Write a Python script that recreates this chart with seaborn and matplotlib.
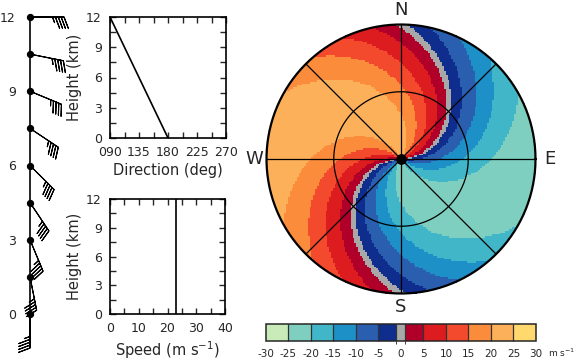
import numpy as np
import matplotlib
matplotlib.use("Agg")
import matplotlib.pyplot as plt
from matplotlib.colors import ListedColormap, BoundaryNorm
from matplotlib.cm import ScalarMappable
from matplotlib.ticker import MultipleLocator
import seaborn as sns

# ---------------- data ----------------
heights = [0, 1.5, 3, 4.5, 6, 7.5, 9, 10.5, 12]               # km
directions = [180, 168.75, 157.5, 146.25, 135, 123.75, 112.5, 101.25, 90]  # deg (from)
speeds = [23, 23, 23, 23, 23, 23, 23, 23, 23]                   # m/s

height_ticks = [0, 3, 6, 9, 12]
dir_ticks = [90, 135, 180, 225, 270]
dir_labels = ["090", "135", "180", "225", "270"]
speed_ticks = [0, 10, 20, 30, 40]

vel_bounds = [-30, -25, -20, -15, -10, -5, -1, 1, 5, 10, 15, 20, 25, 30]
vel_colors = ["#c8ebb8", "#7ecfbf", "#41b6c8", "#1e90c8", "#2a5fb0", "#0f2d8c",
              "#a8a8a8", "#b0002a", "#dc1c1e", "#f34a2e", "#fa8c3c", "#fdb05a", "#ffd86e"]
vel_ticks = [-30, -25, -20, -15, -10, -5, 0, 5, 10, 15, 20, 25, 30]
vel_labels = ["-30", "-25", "-20", "-15", "-10", "-5", "0", "5", "10", "15", "20", "25", "30"]
compass = {"N": (0.0, 1.108), "S": (0.0, -1.10), "W": (-1.093, 0.0), "E": (1.108, 0.0)}

# ---------------- style ----------------
sns.set_style("ticks")
plt.rcParams["font.family"] = ["DejaVu Sans"]
plt.rcParams["axes.linewidth"] = 1.2

W, H = 576, 361
fig = plt.figure(figsize=(W / 100, H / 100), dpi=100)


def ax_px(l, t, r, b):
    return fig.add_axes([l / W, 1 - b / H, (r - l) / W, (b - t) / H])


# ---------------- wind barbs ----------------
axb = ax_px(20, 17, 100, 314)
axb.set_xlim(-10, 70)
axb.set_ylim(0, 12)
for s in axb.spines.values():
    s.set_visible(False)
axb.set_xticks([])
axb.set_yticks(height_ticks)
axb.tick_params(axis="y", length=0, pad=3, labelsize=9)
zeros = np.zeros(len(heights))
axb.plot(zeros, heights, color="k", lw=1.2, clip_on=False)
axb.scatter(zeros, heights, s=18, color="k", zorder=4, clip_on=False)
d = np.deg2rad(directions)
sp = np.array(speeds, dtype=float)
u = -sp * np.sin(d)
v = -sp * np.cos(d)
axb.barbs(zeros, heights, u, v, length=7, lw=0.8, color="k",
          sizes=dict(spacing=0.085, height=0.33, width=0.25),
          barb_increments=dict(half=2.5, full=5, flag=25), clip_on=False)

# ---------------- direction profile ----------------
def style_box(ax):
    ax.tick_params(which="both", direction="in", top=True, right=True,
                   length=4.5, width=1.0, labelsize=9, pad=6)
    for s in ax.spines.values():
        s.set_linewidth(1.2)
        s.set_color("k")


axd = ax_px(110, 17, 226, 138)
sns.lineplot(x=directions, y=heights, ax=axd, color="k", lw=1.2,
             estimator=None, sort=False)
axd.set_xlim(90, 270)
axd.set_ylim(0, 12)
axd.set_xticks(dir_ticks)
axd.set_xticklabels(dir_labels)
axd.xaxis.set_minor_locator(MultipleLocator(22.5))
axd.set_yticks(height_ticks)
axd.yaxis.set_minor_locator(MultipleLocator(1.5))
style_box(axd)
axd.set_xlabel("Direction (deg)", fontsize=10.5, labelpad=3)
axd.set_ylabel("Height (km)", fontsize=10.5, labelpad=3)

# ---------------- speed profile ----------------
axs = ax_px(110, 199, 225, 314)
sns.lineplot(x=speeds, y=heights, ax=axs, color="k", lw=1.2,
             estimator=None, sort=False, orient="y")
axs.set_xlim(0, 40)
axs.set_ylim(0, 12)
axs.set_xticks(speed_ticks)
axs.xaxis.set_minor_locator(MultipleLocator(5))
axs.set_yticks(height_ticks)
axs.yaxis.set_minor_locator(MultipleLocator(1.5))
style_box(axs)
axs.set_xlabel("Speed (m s$^{-1}$)", fontsize=10.5, labelpad=3)
axs.set_ylabel("Height (km)", fontsize=10.5, labelpad=3)

# ---------------- radial velocity PPI ----------------
cmap = ListedColormap(vel_colors)
norm = BoundaryNorm(vel_bounds, cmap.N)

axp = ax_px(266.5, 24.5, 535.5, 293.5)
axp.set_xlim(-1, 1)
axp.set_ylim(-1, 1)
axp.set_aspect("equal")
axp.axis("off")

n = 150
g = np.linspace(-1, 1, n + 1)
gc = 0.5 * (g[1:] + g[:-1])
X, Y = np.meshgrid(gc, gc)
R = np.hypot(X, Y)
AZ = np.arctan2(X, Y)
hgt = R * max(heights)
dir_r = np.deg2rad(np.interp(hgt, heights, directions))
spd_r = np.interp(hgt, heights, speeds)
vr = -spd_r * np.cos(AZ - dir_r)
vr = np.ma.masked_where(R > 1.0, vr)
axp.pcolormesh(g, g, vr, cmap=cmap, norm=norm, shading="flat")

t = np.linspace(0, 2 * np.pi, 400)
axp.plot(np.cos(t), np.sin(t), color="k", lw=1.6, clip_on=False)
axp.plot(0.5 * np.cos(t), 0.5 * np.sin(t), color="k", lw=0.9)
for ang in [0, 45, 90, 135]:
    a = np.deg2rad(ang)
    axp.plot([-np.sin(a), np.sin(a)], [-np.cos(a), np.cos(a)], color="k", lw=0.9)
axp.scatter([0], [0], s=45, color="k", zorder=5)
for lab, (x, y) in compass.items():
    axp.text(x, y, lab, ha="center", va="center", fontsize=13, clip_on=False)

# ---------------- colorbar ----------------
cax = ax_px(265.7, 324, 536, 341)
cb = fig.colorbar(ScalarMappable(norm=norm, cmap=cmap), cax=cax,
                  orientation="horizontal", spacing="proportional",
                  drawedges=True, ticks=vel_ticks)
cb.set_ticklabels(vel_labels)
cb.outline.set_linewidth(1.1)
cb.dividers.set_linewidth(0.9)
cb.dividers.set_color("#333333")
cax.tick_params(length=0, labelsize=7.5, pad=6)
fig.text(548 / W, 1 - 353 / H, "m s$^{-1}$", fontsize=6.5, ha="left", va="center")

fig.savefig("out.png", dpi=100)
